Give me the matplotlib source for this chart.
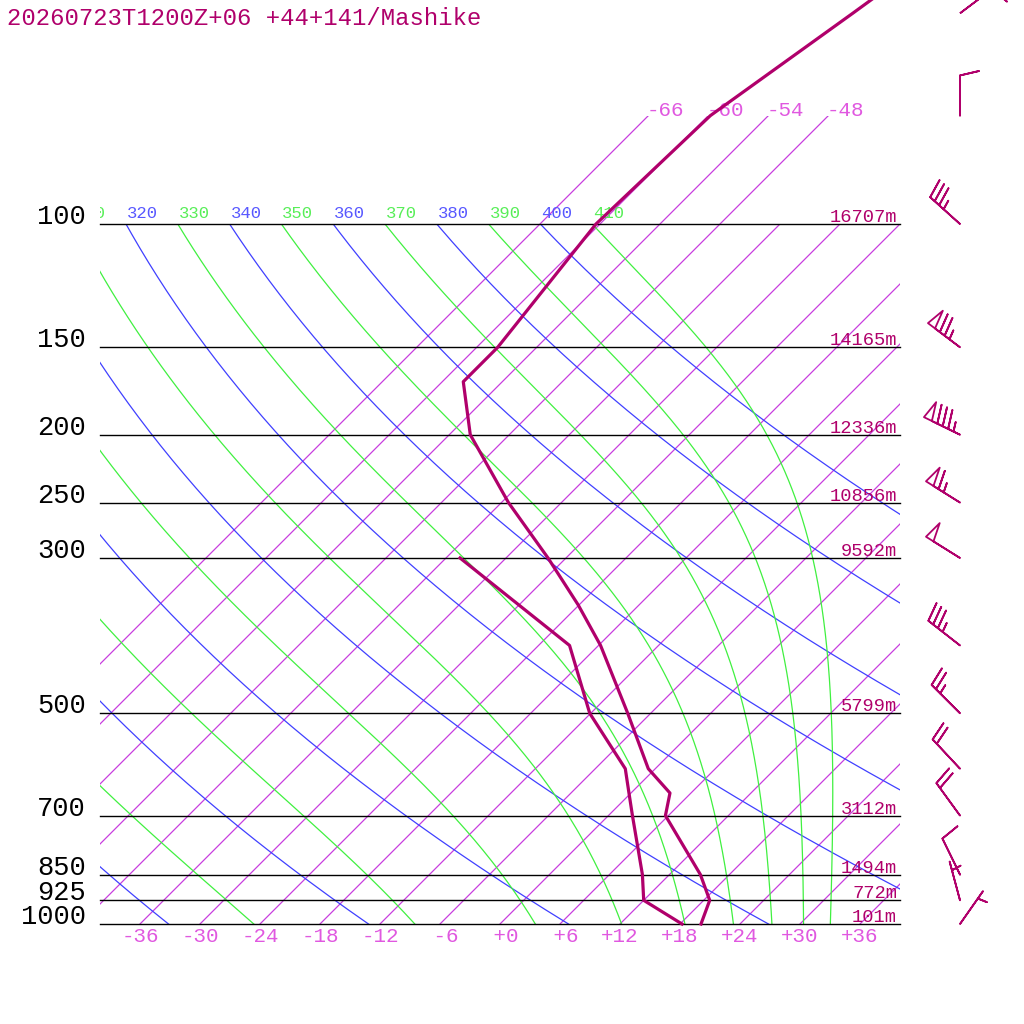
import numpy as np
import matplotlib
matplotlib.use("Agg")
import matplotlib.pyplot as plt
from matplotlib.patches import Rectangle
from matplotlib.transforms import Bbox

# ------------------------------------------------------------------ data
title = "20260723T1200Z+06 +44+141/Mashike"

temp_p = [1000, 925, 850, 700, 650, 600, 500, 400, 350, 300, 250, 200, 168, 150, 100, 70, 50, 30]
temp_t = [20.1, 18.6, 15.1, 5.7, 3.9, -0.7, -8.3, -17.8, -24.1, -31.8, -41.3, -51.9,
          -57.9, -57.9, -60.4, -59.8, -55.8, -50.0]

dewp_p = [1000, 925, 850, 700, 650, 600, 500, 400, 300]
dewp_t = [18.2, 12.0, 9.3, 2.4, -0.2, -3.0, -12.1, -20.9, -40.6]

wind_p = [1000, 925, 850, 700, 600, 500, 400, 300, 250, 200, 150, 100, 70, 50]
wind_dir = [35, 345, 334, 324, 317, 315, 308, 302, 302, 296, 307, 312, 360, 53]
wind_spd = [5, 5, 10, 20, 20, 25, 35, 50, 65, 85, 75, 35, 10, 10]

lev_p = [100, 150, 200, 250, 300, 500, 700, 850, 925, 1000]
lev_h = [16707, 14165, 12336, 10856, 9592, 5799, 3112, 1494, 772, 101]

iso_t = list(range(-66, 37, 6))
iso_top_labeled = [-66, -60, -54, -48]
dry_theta = list(range(200, 401, 20))
moist_theta = list(range(250, 411, 20))
bottom_ticks = list(range(-36, 37, 6))

# ------------------------------------------------------------------ style
C_MAIN = "#b0006b"
C_ISO = "#c83ede"
C_ISO_LBL = "#e058e0"
C_BLUE = "#4040ff"
C_BLUE_LBL = "#5858ff"
C_GREEN = "#40f040"
C_GREEN_LBL = "#58ee58"
FONT = ["Liberation Mono", "DejaVu Sans Mono"]

SKEW = 70.0          # degrees of x-shift per decade of pressure
KAPPA = 0.2857


def skx(t, p):
    return np.asarray(t, dtype=float) + SKEW * np.log10(1000.0 / np.asarray(p, dtype=float))


def p_at_px(ypx):
    # pressure at a given pixel row (figure coords, from top)
    return 1000.0 * 10 ** ((ypx - 924.0) / 700.0)


def moist_adiabat(theta, p_levels):
    Rd, cp, Lv, eps = 287.04, 1005.7, 2.501e6, 0.622

    def dTdp(T, p):
        es = 6.112 * np.exp(17.67 * (T - 273.15) / (T - 29.65))
        rs = eps * es / (p - es)
        return (Rd * T + Lv * rs) / (cp + Lv * Lv * rs * eps / (Rd * T * T)) / p

    T = theta * (p_levels[0] / 1000.0) ** KAPPA
    out = [T]
    for i in range(1, len(p_levels)):
        p0, p1 = p_levels[i - 1], p_levels[i]
        h = p1 - p0
        k1 = dTdp(T, p0)
        k2 = dTdp(T + h * k1 / 2, p0 + h / 2)
        k3 = dTdp(T + h * k2 / 2, p0 + h / 2)
        k4 = dTdp(T + h * k3, p1)
        T = T + h * (k1 + 2 * k2 + 2 * k3 + k4) / 6
        out.append(T)
    return np.array(out) - 273.15


fig = plt.figure(figsize=(10.24, 10.24), dpi=100)
ax = fig.add_axes([0, 0, 1, 1])
ax.set_yscale("log")
ax.set_xlim(-50, 52.4)
ax.set_ylim(p_at_px(1024), p_at_px(0))
ax.axis("off")

clip_main = Rectangle((-40, 100), 80, 900, transform=ax.transData)
clip_ext = Rectangle((-40, 70), 80, 930, transform=ax.transData)
txt_box = Bbox.from_extents(100, 0, 1024, 1024)   # display pixels, left edge of the frame

# isotherms
for t in iso_t:
    top = 70 if t in iso_top_labeled else 100
    pp = np.array([1000.0, top])
    ln, = ax.plot(skx(t, pp), pp, color=C_ISO, lw=0.9, zorder=1)
    ln.set_clip_path(clip_ext if top == 70 else clip_main)
    if t in iso_top_labeled:
        ax.text(skx(t, 70) - 0.2, 70, f"{t:+d}", color=C_ISO_LBL, fontsize=15,
                family=FONT, ha="left", va="baseline")

for t in bottom_ticks:
    ax.text(t, p_at_px(942), f"{t:+3d}", color=C_ISO_LBL, fontsize=15,
            family=FONT, ha="center", va="baseline")


def theta_label(x100, th, color):
    # only labels that reach into the frame are drawn (clipped at its left edge)
    if x100 < -43.2:
        return
    tx = ax.text(x100 + 0.1, p_at_px(218), f"{th}", color=color, fontsize=12.4,
                 family=FONT, ha="left", va="baseline", clip_on=True)
    tx.set_clip_box(txt_box)


# dry adiabats
pp = np.logspace(3, 2, 200)
for th in dry_theta:
    tt = th * (pp / 1000.0) ** KAPPA - 273.15
    ln, = ax.plot(skx(tt, pp), pp, color=C_BLUE, lw=0.9, zorder=1)
    ln.set_clip_path(clip_main)
    theta_label(float(skx(th * 0.1 ** KAPPA - 273.15, 100)), th, C_BLUE_LBL)

# moist adiabats (integrated downward from 100 hPa)
pm = np.logspace(2, 3, 400)
for th in moist_theta:
    tt = moist_adiabat(th, pm)
    ln, = ax.plot(skx(tt, pm), pm, color=C_GREEN, lw=0.9, zorder=1)
    ln.set_clip_path(clip_main)
    theta_label(float(skx(tt[0], 100)), th, C_GREEN_LBL)

# isobars, pressure labels, heights
for p, h in zip(lev_p, lev_h):
    ax.plot([-40, 40], [p, p], color="black", lw=1.0, zorder=2)
    ax.text(-41.4, p, f"{p}", color="black", fontsize=19.5, family=FONT,
            ha="right", va="baseline")
    ax.text(39.7, p * 10 ** (-2 / 700), f"{h}m", color=C_MAIN, fontsize=13.5,
            family=FONT, ha="right", va="baseline", zorder=3)

# temperature and dew point
ax.plot(skx(temp_t, temp_p), temp_p, color=C_MAIN, lw=2.3, zorder=4)
ax.plot(skx(dewp_t, dewp_p), dewp_p, color=C_MAIN, lw=2.3, zorder=4)

# wind barbs
wd = np.radians(wind_dir)
spd = np.asarray(wind_spd, dtype=float)
u = -spd * np.sin(wd)
v = -spd * np.cos(wd)
ax.barbs(np.full(len(wind_p), 46.0), wind_p, u, v, length=7.6,
         sizes=dict(spacing=0.15, height=0.47, width=0.22),
         barbcolor=C_MAIN, flagcolor="none", linewidth=1.3, zorder=5)

fig.text(7 / 1024, 1 - 25 / 1024, title, color=C_MAIN, fontsize=17.2, family=FONT,
         ha="left", va="baseline")

fig.savefig("out.png", dpi=100, facecolor="white")
